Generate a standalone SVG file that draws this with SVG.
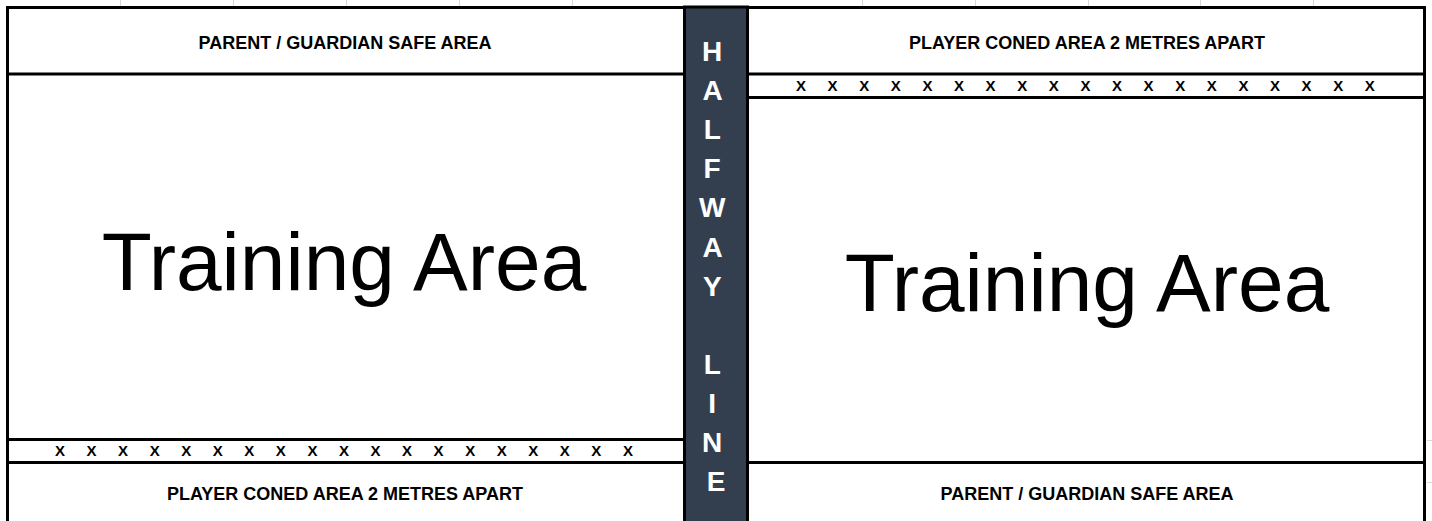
<svg xmlns="http://www.w3.org/2000/svg" width="1432" height="521" viewBox="0 0 1432 521">
  <style>
    .grid { stroke: #d9d9d9; stroke-width: 1; }
    .rule { stroke: #000; stroke-width: 3; fill: none; }
    .hdr { font-family: "Liberation Sans", Arial, sans-serif; font-weight: bold; font-size: 18px; fill: #000; text-anchor: middle; }
    .cone { font-family: "Liberation Sans", Arial, sans-serif; font-weight: bold; font-size: 15px; fill: #000; text-anchor: middle; }
    .big { font-family: "Liberation Sans", Arial, sans-serif; font-size: 82px; fill: #000; text-anchor: middle; }
    .band { font-family: "Liberation Sans", Arial, sans-serif; font-weight: bold; font-size: 28px; fill: #fff; text-anchor: middle; }
  </style>
  <rect width="1432" height="521" fill="#fff"/>

  <!-- faint sheet gridlines outside the pitch outline -->
  <g id="sheet-grid" class="grid">
    <line x1="120.5" y1="0" x2="120.5" y2="6"/>
    <line x1="233.5" y1="0" x2="233.5" y2="6"/>
    <line x1="346.5" y1="0" x2="346.5" y2="6"/>
    <line x1="459.5" y1="0" x2="459.5" y2="6"/>
    <line x1="572.5" y1="0" x2="572.5" y2="6"/>
    <line x1="862.5" y1="0" x2="862.5" y2="6"/>
    <line x1="975.5" y1="0" x2="975.5" y2="6"/>
    <line x1="1088.5" y1="0" x2="1088.5" y2="6"/>
    <line x1="1200.5" y1="0" x2="1200.5" y2="6"/>
    <line x1="1313.5" y1="0" x2="1313.5" y2="6"/>
    <line x1="1427" y1="440.5" x2="1432" y2="440.5"/>
    <line x1="1427" y1="482.5" x2="1432" y2="482.5"/>
  </g>

  <!-- left half: parent area on top, cones along the bottom -->
  <g id="left-half">
    <path class="rule" d="M7.5 521 V7.5 H684"/>
    <line class="rule" x1="7" y1="74" x2="684" y2="74"/>
    <line class="rule" x1="7" y1="439.5" x2="684" y2="439.5"/>
    <line class="rule" x1="7" y1="462.5" x2="684" y2="462.5"/>
    <text class="hdr" x="345" y="49">PARENT / GUARDIAN SAFE AREA</text>
    <text class="big" x="344" y="290">Training Area</text>
    <text class="cone" y="456" x="60 91.55 123.1 154.65 186.2 217.75 249.3 280.85 312.4 343.95 375.5 407.05 438.6 470.15 501.7 533.25 564.8 596.35 627.9">XXXXXXXXXXXXXXXXXXX</text>
    <text class="hdr" x="345" y="500">PLAYER CONED AREA 2 METRES APART</text>
  </g>

  <!-- right half: cones along the top, parent area at the bottom -->
  <g id="right-half">
    <path class="rule" d="M748 7.5 H1424.5 V521"/>
    <line class="rule" x1="748" y1="74" x2="1425" y2="74"/>
    <line class="rule" x1="748" y1="97.5" x2="1425" y2="97.5"/>
    <line class="rule" x1="748" y1="462.5" x2="1425" y2="462.5"/>
    <text class="hdr" x="1087" y="49">PLAYER CONED AREA 2 METRES APART</text>
    <text class="cone" y="91" x="801 832.6 864.2 895.8 927.4 959 990.6 1022.2 1053.8 1085.4 1117 1148.6 1180.2 1211.8 1243.4 1275 1306.6 1338.2 1369.8">XXXXXXXXXXXXXXXXXXX</text>
    <text class="big" x="1087" y="311">Training Area</text>
    <text class="hdr" x="1087" y="500">PARENT / GUARDIAN SAFE AREA</text>
  </g>

  <!-- halfway line band with vertical lettering -->
  <g id="halfway-line">
    <rect x="684.5" y="7" width="63" height="520" fill="#333f4f" stroke="#000" stroke-width="3"/>
    <text class="band">
      <tspan x="716" y="61">H</tspan>
      <tspan x="716" y="100.1">A</tspan>
      <tspan x="716" y="139.2">L</tspan>
      <tspan x="716" y="178.3">F</tspan>
      <tspan x="716" y="217.4">W</tspan>
      <tspan x="716" y="256.5">A</tspan>
      <tspan x="716" y="295.6">Y</tspan>
      <tspan x="716" y="373.8">L</tspan>
      <tspan x="716" y="412.9">I</tspan>
      <tspan x="716" y="452">N</tspan>
      <tspan x="716" y="491.1">E</tspan>
    </text>
  </g>
</svg>
